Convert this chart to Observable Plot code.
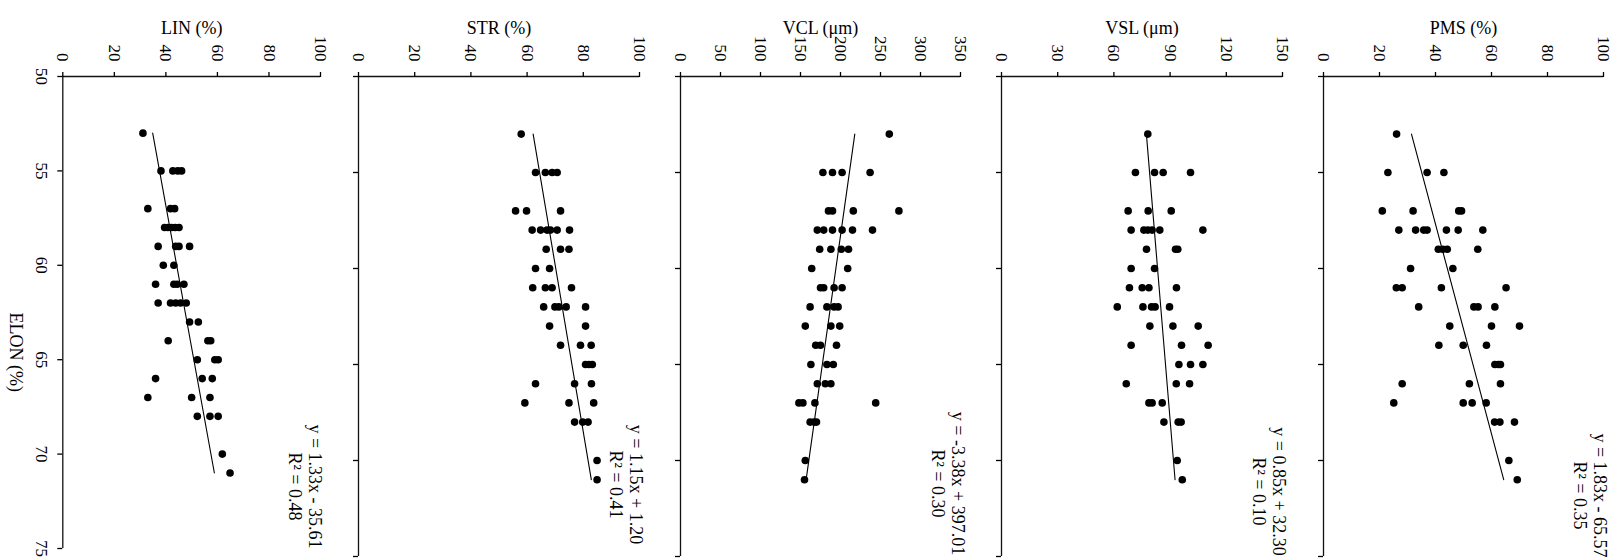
<!DOCTYPE html>
<html><head><meta charset="utf-8">
<script src="https://cdn.jsdelivr.net/npm/d3@7"></script>
<script src="https://cdn.jsdelivr.net/npm/@observablehq/plot@0.6"></script>
<style>
body{margin:0;background:#fff;}
#chart{position:relative;width:1623px;height:559px;}
#chart svg{position:absolute;left:0;top:0;}
</style></head><body><div id="chart"></div>
<script>
// ---- data: [ELON (%), value] ----
const LIN = [[53,31.1],
[55,38.1],[55,42.7],[55,44.6],[55,46.1],
[57,33.0],[57,41.8],[57,43.4],
[58,39.5],[58,40.8],[58,42.2],[58,43.6],[58,45.1],
[59,37.0],[59,43.8],[59,45.1],[59,49.2],
[60,39.0],[60,43.1],
[61,36.0],[61,43.1],[61,44.4],[61,47.0],
[62,37.0],[62,41.8],[62,43.8],[62,45.7],[62,47.9],
[63,49.2],[63,52.6],
[64,40.9],[64,56.3],[64,57.4],
[65,52.2],[65,59.0],[65,60.3],
[66,36.0],[66,54.1],[66,58.0],
[67,33.0],[67,50.0],[67,57.1],
[68,52.2],[68,57.1],[68,60.3],
[70,61.9],
[71,64.9]];
const STR = [[53,57.9],
[55,63.0],[55,66.5],[55,68.9],[55,70.7],
[57,55.9],[57,59.8],[57,71.9],
[58,61.8],[58,64.8],[58,67.1],[58,68.3],[58,70.7],[58,75.1],
[59,66.8],[59,71.9],[59,74.9],
[60,63.0],[60,68.0],
[61,62.0],[61,66.5],[61,68.9],[61,75.8],
[62,65.9],[62,69.9],[62,71.3],[62,73.9],[62,80.8],
[63,68.0],[63,80.8],
[64,71.9],[64,79.0],[64,82.8],
[65,80.8],[65,82.0],[65,83.2],
[66,63.0],[66,76.9],[66,82.9],
[67,59.2],[67,74.9],[67,83.7],
[68,76.9],[68,79.8],[68,81.7],
[70,84.9],
[71,84.9]];
const VCL = [[53,261],
[55,178],[55,190],[55,202],[55,237],
[57,185],[57,190],[57,216],[57,273],
[58,171],[58,179],[58,190],[58,202],[58,215],[58,240],
[59,174],[59,188],[59,201],[59,210],
[60,164],[60,209],
[61,175],[61,179],[61,192],[61,202],
[62,162],[62,183],[62,192],[62,197],
[63,156],[63,188],[63,199],
[64,169],[64,175],[64,195],
[65,163],[65,183],[65,191],
[66,171],[66,181],[66,188],
[67,148],[67,153],[67,168],[67,244],
[68,162],[68,167],[68,170],
[70,156],
[71,155]];
const VSL = [[53,78.1],
[55,71.5],[55,81.7],[55,86.3],[55,100.9],
[57,67.6],[57,78.3],[57,90.6],
[58,69.2],[58,76.0],[58,78.1],[58,80.4],[58,84.5],[58,107.5],
[59,77.4],[59,92.9],[59,94.1],
[60,69.2],[60,81.7],
[61,68.3],[61,75.1],[61,78.7],[61,93.4],
[62,61.8],[62,75.5],[62,80.1],[62,82.0],[62,89.7],
[63,79.2],[63,91.5],[63,105.0],
[64,69.2],[64,96.1],[64,110.3],
[65,94.7],[65,100.9],[65,107.5],
[66,66.6],[66,93.3],[66,100.4],
[67,78.7],[67,80.4],[67,85.8],
[68,86.7],[68,94.3],[68,95.9],
[70,93.8],
[71,96.5]];
const PMS = [[53,26.1],
[55,23.0],[55,37.0],[55,43.0],
[57,21.0],[57,32.0],[57,48.3],[57,49.3],
[58,26.9],[58,32.9],[58,35.8],[58,37.0],[58,43.9],[58,48.1],[58,56.9],
[59,41.0],[59,42.6],[59,44.2],[59,55.1],
[60,31.1],[60,46.2],
[61,26.0],[61,28.1],[61,42.1],[61,65.2],
[62,34.0],[62,53.7],[62,55.2],[62,61.2],
[63,45.1],[63,60.0],[63,70.0],
[64,41.2],[64,49.9],[64,58.2],
[65,61.2],[65,62.4],[65,63.2],
[66,28.1],[66,52.1],[66,63.2],
[67,25.1],[67,49.9],[67,53.1],[67,58.1],
[68,61.1],[68,63.0],[68,68.2],
[70,66.2],
[71,69.2]];

const titles = ["LIN (%)", "STR (%)", "VCL (μm)", "VSL (μm)", "PMS (%)"];
const valueMax = [100, 100, 350, 150, 100];
const valueTicks = [
  [0,20,40,60,80,100],
  [0,20,40,60,80,100],
  [0,50,100,150,200,250,300,350],
  [0,30,60,90,120,150],
  [0,20,40,60,80,100]
];
const elonTicks = [50,55,60,65,70,75];
const slopes = [1.33, 1.15, -3.38, 0.85, 1.83];
const intercepts = [-35.61, 1.20, 397.01, 32.30, -65.57];
const r2 = [0.48, 0.41, 0.30, 0.10, 0.35];
const fitRange = [53, 71];

// ---- layout ----
const W = 1623, H = 559, TOP = 76;
const lefts = [62.3, 358, 680, 1001, 1323];
const rights = [320, 639, 960, 1282, 1603];
const bottoms = [548, 556, 556, 556, 556];
const eqDx = [-15, -13, -12.5, -13, -13];
const eqDy = [-62, -72, -73, -65, -61];

const root = document.getElementById("chart");
const panels = [LIN, STR, VCL, VSL, PMS];
const fmt = v => v.toFixed(2);

panels.forEach((data, i) => {
  const a = slopes[i], b = intercepts[i];
  const fit = fitRange.map(e => ({elon: e, v: a * e + b}));
  const eq = `y = ${fmt(a)}x ${b < 0 ? "-" : "+"} ${fmt(Math.abs(b))}\nR² = ${fmt(r2[i])}`;
  const marks = [
    Plot.ruleY([50], {x1: 0, x2: valueMax[i], stroke: "#111", strokeWidth: 1.3}),
    Plot.ruleX([0], {y1: 50, y2: 75, stroke: "#111", strokeWidth: 1.3}),
    Plot.axisX({anchor: "top", ticks: valueTicks[i], tickSize: 5, tickRotate: 90,
      textAnchor: "end", tickPadding: 10, fontSize: 17, label: null, strokeWidth: 1.3}),
    i === 0
      ? Plot.axisY({anchor: "left", ticks: elonTicks, tickSize: 5, tickRotate: 90,
          tickPadding: 10, fontSize: 17, label: null, strokeWidth: 1.3})
      : Plot.axisY({anchor: "left", ticks: elonTicks, tickSize: 5,
          tickFormat: () => "", label: null, strokeWidth: 1.3}),
    Plot.line(fit, {x: "v", y: "elon", stroke: "#000", strokeWidth: 1.1}),
    Plot.dot(data, {x: d => d[1], y: d => d[0], r: 3.8, fill: "#000"}),
    Plot.text([titles[i]], {text: d => d, frameAnchor: "top", dy: -55, fontSize: 18}),
    Plot.text([eq], {text: d => d, frameAnchor: "bottom-right", dx: eqDx[i], dy: eqDy[i],
      rotate: 90, textAnchor: "middle", lineAnchor: "middle", lineHeight: 1.1, fontSize: 18})
  ];
  if (i === 0) {
    marks.push(Plot.text(["ELON (%)"], {text: d => d, frameAnchor: "left", dx: -47, rotate: 90, fontSize: 18}));
  }
  const svg = Plot.plot({
    width: W, height: H,
    marginLeft: lefts[i], marginRight: W - rights[i],
    marginTop: TOP, marginBottom: H - bottoms[i],
    x: {domain: [0, valueMax[i]]},
    y: {domain: [50, 75], reverse: true},
    style: {background: "transparent", overflow: "visible", fontFamily: "Liberation Serif", fontSize: "17px", color: "#000"},
    marks
  });
  root.appendChild(svg);
});
</script></body></html>
